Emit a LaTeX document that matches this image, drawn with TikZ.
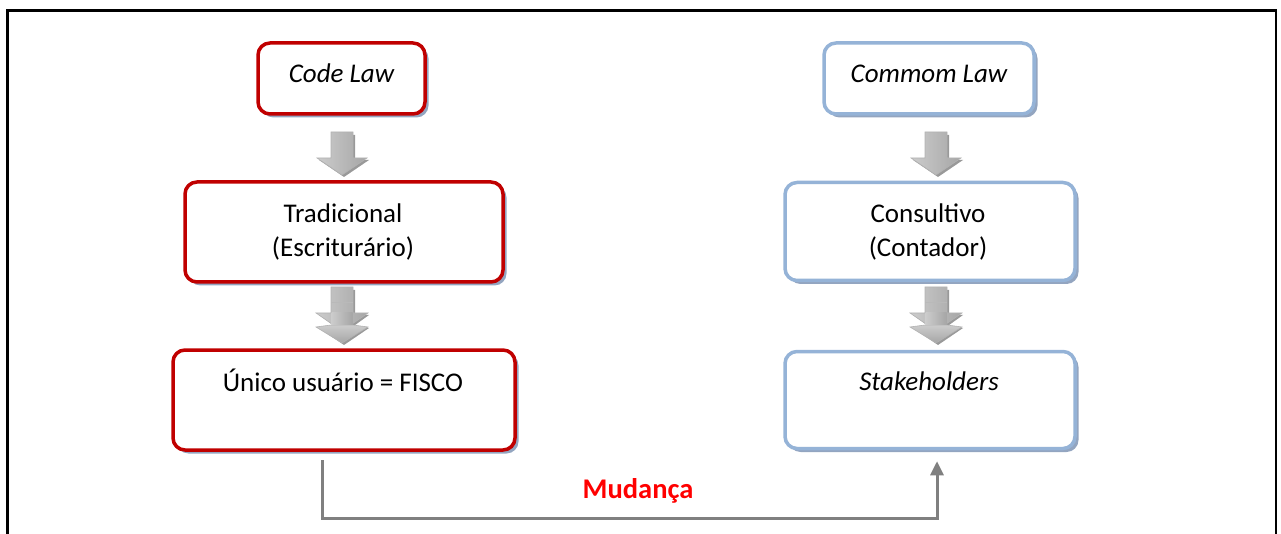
\documentclass[tikz,border=0pt]{standalone}
\usepackage{fontspec}
\setmainfont{Carlito}
\usetikzlibrary{shadows,arrows.meta,calc}

\definecolor{lawred}{HTML}{C00000}
\definecolor{lawblue}{HTML}{95B3D7}
\definecolor{boxshade}{HTML}{93A5C0}
\definecolor{linkgray}{HTML}{808080}
\definecolor{changered}{HTML}{FF0000}

\tikzset{
  x=1pt, y=1pt,
  lawbox/.style={rectangle, rounded corners=12pt, line width=3.5pt, fill=white,
    inner sep=0pt, drop shadow={shadow xshift=3.5pt, shadow yshift=-3.5pt, fill=boxshade, opacity=1}},
  redbox/.style={lawbox, draw=lawred},
  bluebox/.style={lawbox, draw=lawblue},
  boxtext/.style={anchor=base, inner sep=0pt, font=\fontsize{27}{32}\selectfont},
  link/.style={draw=linkgray, line width=3pt, line cap=rect},
  % single block arrow, origin at the tip
  pics/blockdown/.style={code={
    \fill[gray!80] (-9,40) -- (13,40) -- (13,15) -- (27,15) -- (2,-2) -- (-23,15) -- (-9,15) -- cycle;
    \shade[left color=gray!40, right color=gray!70, draw=gray!60, line width=0.6pt]
      (-11,43) -- (11,43) -- (11,17) -- (25,17) -- (0,0) -- (-25,17) -- (-11,17) -- cycle;
  }},
  % stacked block arrow with two heads, origin at the tip
  pics/stackdown/.style={code={
    \fill[gray!80] (-9,53) -- (13,53) -- (13,28) -- (27,28) -- (2,10) -- (-23,28) -- (-9,28) -- cycle;
    \shade[left color=gray!40, right color=gray!70, draw=gray!60, line width=0.6pt]
      (-11,56) -- (11,56) -- (11,30) -- (26,30) -- (0,12) -- (-26,30) -- (-11,30) -- cycle;
    \fill[gray!80] (-23,15) -- (-9,15) -- (13,15) -- (27,15) -- (2,-2) -- cycle;
    \shade[top color=gray!40, bottom color=gray!70, draw=gray!60, line width=0.6pt]
      (-11,18) -- (11,18) -- (26,16) -- (0,0) -- (-26,16) -- cycle;
    \shade[left color=gray!40, right color=gray!70] (-10.5,30) rectangle (10.5,18.5);
    \draw[gray!55, line width=0.6pt] (-11,41) -- (11,41);
  }}
}

\begin{document}
\begin{tikzpicture}
\useasboundingbox (0,0) rectangle (1281,533);

% outer frame, open at the bottom
\draw[line width=2.5pt] (7.5,-2) -- (7.5,522.5) -- (1276,522.5) -- (1276,-2);

% left column
\node[redbox, minimum width=167pt, minimum height=71pt] (code) at (341.5,454.5) {};
\node[redbox, minimum width=318pt, minimum height=100pt] (trad) at (344,301) {};
\node[redbox, minimum width=342pt, minimum height=100pt] (unico) at (344,133) {};

% right column
\node[bluebox, minimum width=210pt, minimum height=71pt] (commom) at (929,454.5) {};
\node[bluebox, minimum width=290pt, minimum height=98pt] (consult) at (930,301.5) {};
\node[bluebox, minimum width=290pt, minimum height=97pt] (stake) at (930,133) {};

% texts
\node[boxtext] (codeT) at (341.5,450) {\itshape Code Law};
\node[boxtext] (tradT1) at (343,310) {Tradicional};
\node[boxtext] (tradT2) at (343,276) {(Escriturário)};
\node[boxtext] (unicoT) at (343,142) {Único usuário = FISCO};
\node[boxtext] (commomT) at (929,450) {\itshape Commom Law};
\node[boxtext] (consultT1) at (928,310) {Consultivo};
\node[boxtext] (consultT2) at (928,276) {(Contador)};
\node[boxtext] (stakeT) at (929,143) {\itshape Stakeholders};

% block arrows between the boxes
\pic at (342,358) {blockdown};
\pic at (936,358) {blockdown};
\pic at (342,190) {stackdown};
\pic at (936,190) {stackdown};

% change connector from the left column to the right one
\coordinate (lstart) at ([xshift=-22pt]unico.south);
\coordinate (rend) at ([xshift=7pt]stake.south);
\draw[link, -{Triangle[length=14pt,width=13pt]}]
  ([yshift=-10pt]lstart) |- (637,15) -| ([yshift=-11pt]rend);
\node[font=\fontsize{28.5}{32}\selectfont\bfseries, text=changered, inner sep=0pt] (mud) at (638,42) {Mudança};
\end{tikzpicture}
\end{document}
